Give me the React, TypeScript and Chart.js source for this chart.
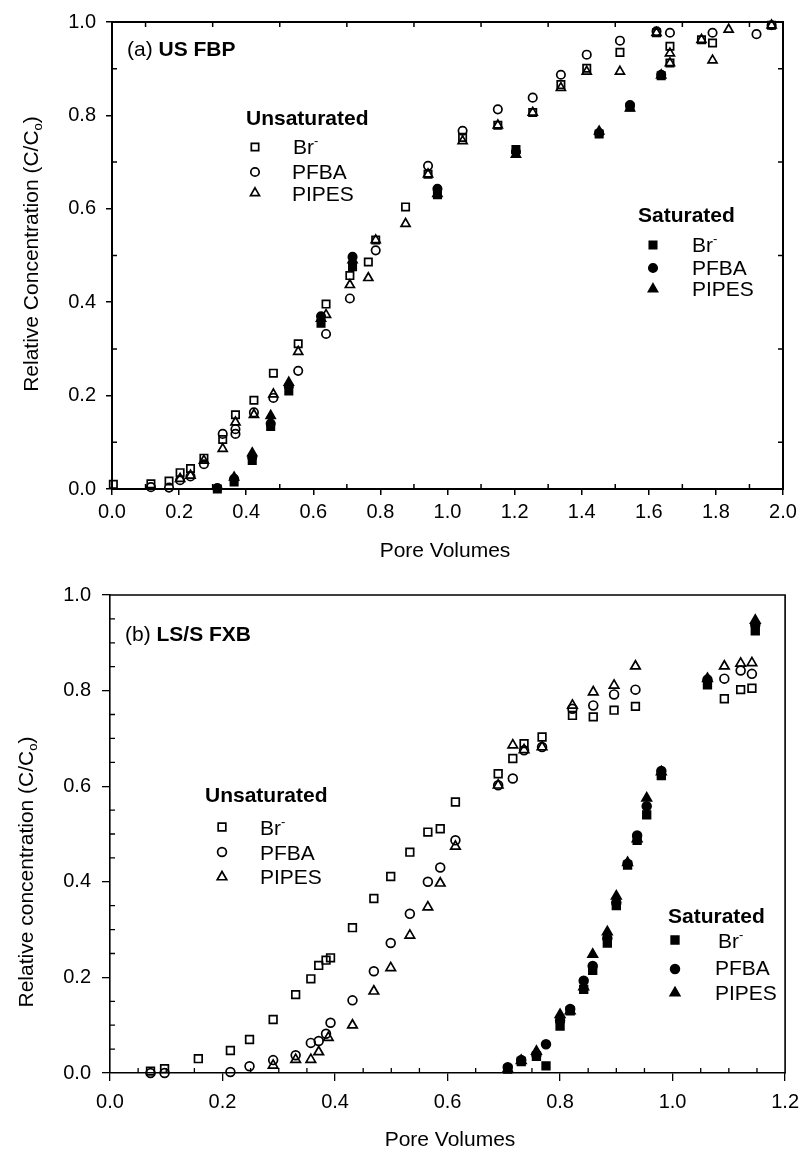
import React, { useEffect, useRef } from 'react';
import { Chart, registerables } from 'chart.js';

Chart.register(...registerables);

const FONT = '"Liberation Sans", Arial, Helvetica, sans-serif';

// ---------------- Panel (a) US FBP ----------------
const A_X_TICKS = [0, 0.2, 0.4, 0.6, 0.8, 1.0, 1.2, 1.4, 1.6, 1.8, 2.0];
const A_Y_TICKS = [0, 0.2, 0.4, 0.6, 0.8, 1.0];

const A_UNSAT_BR_X = [0.004, 0.116, 0.17, 0.203, 0.234, 0.274, 0.33, 0.368, 0.423, 0.481, 0.555, 0.638, 0.709, 0.764, 0.786, 0.875, 0.942, 1.045, 1.15, 1.254, 1.338, 1.415, 1.514, 1.623, 1.663, 1.663, 1.757, 1.79, 1.966];
const A_UNSAT_BR_Y = [0.010, 0.011, 0.017, 0.035, 0.044, 0.066, 0.106, 0.159, 0.190, 0.248, 0.311, 0.396, 0.457, 0.486, 0.533, 0.604, 0.674, 0.753, 0.779, 0.806, 0.866, 0.901, 0.935, 0.977, 0.948, 0.912, 0.962, 0.955, 0.993];

const A_UNSAT_PFBA_X = [0.116, 0.17, 0.203, 0.234, 0.274, 0.33, 0.368, 0.368, 0.423, 0.481, 0.555, 0.638, 0.709, 0.786, 0.942, 1.045, 1.15, 1.254, 1.338, 1.415, 1.514, 1.623, 1.663, 1.79, 1.921, 1.966];
const A_UNSAT_PFBA_Y = [0.004, 0.003, 0.019, 0.027, 0.053, 0.118, 0.128, 0.118, 0.164, 0.195, 0.253, 0.332, 0.408, 0.511, 0.692, 0.767, 0.813, 0.838, 0.887, 0.930, 0.960, 0.980, 0.977, 0.977, 0.974, 0.993];

const A_UNSAT_PIPES_X = [0.203, 0.234, 0.274, 0.33, 0.368, 0.423, 0.481, 0.555, 0.638, 0.709, 0.764, 0.786, 0.875, 0.942, 1.045, 1.15, 1.254, 1.338, 1.415, 1.514, 1.623, 1.663, 1.663, 1.757, 1.79, 1.838, 1.966];
const A_UNSAT_PIPES_Y = [0.022, 0.029, 0.061, 0.086, 0.143, 0.159, 0.203, 0.294, 0.373, 0.437, 0.452, 0.533, 0.568, 0.674, 0.745, 0.779, 0.806, 0.859, 0.894, 0.894, 0.977, 0.933, 0.912, 0.962, 0.918, 0.984, 0.993];

const A_SAT_BR_X = [0.314, 0.364, 0.418, 0.473, 0.527, 0.623, 0.717, 0.970, 1.204, 1.452, 1.544, 1.637];
const A_SAT_BR_Y = [0.000, 0.015, 0.061, 0.134, 0.210, 0.355, 0.476, 0.630, 0.727, 0.760, 0.818, 0.885];

const A_SAT_PFBA_X = [0.314, 0.364, 0.418, 0.473, 0.527, 0.623, 0.717, 0.970, 1.204, 1.452, 1.544, 1.637];
const A_SAT_PFBA_Y = [0.002, 0.022, 0.068, 0.140, 0.220, 0.370, 0.497, 0.643, 0.722, 0.762, 0.822, 0.887];

const A_SAT_PIPES_X = [0.364, 0.418, 0.473, 0.527, 0.623, 0.717, 0.970, 1.204, 1.452, 1.544, 1.637];
const A_SAT_PIPES_Y = [0.025, 0.077, 0.157, 0.228, 0.365, 0.490, 0.632, 0.716, 0.766, 0.815, 0.886];

// ---------------- Panel (b) LS/S FXB ----------------
const B_X_TICKS = [0, 0.2, 0.4, 0.6, 0.8, 1.0, 1.2];
const B_Y_TICKS = [0, 0.2, 0.4, 0.6, 0.8, 1.0];

const B_UNSAT_BR_X = [0.072, 0.097, 0.157, 0.214, 0.248, 0.29, 0.33, 0.357, 0.371, 0.384, 0.392, 0.431, 0.469, 0.499, 0.533, 0.565, 0.587, 0.614, 0.69, 0.716, 0.736, 0.768, 0.822, 0.859, 0.896, 0.934, 1.092, 1.121, 1.141];
const B_UNSAT_BR_Y = [0.004, 0.009, 0.030, 0.047, 0.070, 0.112, 0.164, 0.197, 0.225, 0.236, 0.241, 0.304, 0.365, 0.411, 0.462, 0.504, 0.511, 0.567, 0.626, 0.658, 0.689, 0.703, 0.748, 0.745, 0.759, 0.767, 0.783, 0.802, 0.805];

const B_UNSAT_PFBA_X = [0.072, 0.097, 0.214, 0.248, 0.29, 0.33, 0.357, 0.371, 0.384, 0.392, 0.431, 0.469, 0.499, 0.533, 0.565, 0.587, 0.614, 0.69, 0.716, 0.736, 0.768, 0.822, 0.859, 0.896, 0.934, 1.092, 1.121, 1.141];
const B_UNSAT_PFBA_Y = [0.000, 0.000, 0.002, 0.014, 0.027, 0.037, 0.063, 0.067, 0.082, 0.105, 0.152, 0.213, 0.272, 0.333, 0.400, 0.430, 0.487, 0.602, 0.616, 0.675, 0.682, 0.762, 0.769, 0.792, 0.802, 0.825, 0.842, 0.835];

const B_UNSAT_PIPES_X = [0.29, 0.33, 0.357, 0.371, 0.388, 0.431, 0.469, 0.499, 0.533, 0.565, 0.587, 0.614, 0.69, 0.716, 0.736, 0.768, 0.822, 0.859, 0.896, 0.934, 1.092, 1.121, 1.141];
const B_UNSAT_PIPES_Y = [0.016, 0.028, 0.028, 0.044, 0.074, 0.100, 0.171, 0.220, 0.288, 0.347, 0.397, 0.474, 0.602, 0.686, 0.676, 0.682, 0.769, 0.797, 0.811, 0.851, 0.851, 0.857, 0.858];

const B_SAT_BR_X = [0.707, 0.731, 0.758, 0.775, 0.80, 0.818, 0.842, 0.858, 0.884, 0.90, 0.92, 0.937, 0.954, 0.98, 1.062, 1.147];
const B_SAT_BR_Y = [0.008, 0.024, 0.035, 0.015, 0.098, 0.130, 0.175, 0.215, 0.272, 0.350, 0.435, 0.487, 0.540, 0.622, 0.812, 0.925];

const B_SAT_PFBA_X = [0.707, 0.731, 0.758, 0.775, 0.80, 0.818, 0.842, 0.858, 0.884, 0.90, 0.92, 0.937, 0.954, 0.98, 1.062, 1.147];
const B_SAT_PFBA_Y = [0.012, 0.027, 0.038, 0.060, 0.110, 0.134, 0.193, 0.224, 0.282, 0.356, 0.438, 0.497, 0.558, 0.632, 0.823, 0.938];

const B_SAT_PIPES_X = [0.707, 0.731, 0.758, 0.80, 0.818, 0.842, 0.858, 0.884, 0.90, 0.92, 0.937, 0.954, 0.98, 1.062, 1.147];
const B_SAT_PIPES_Y = [0.008, 0.026, 0.045, 0.122, 0.130, 0.180, 0.248, 0.295, 0.370, 0.440, 0.490, 0.575, 0.630, 0.825, 0.947];

type Shape = 'rect' | 'circle' | 'triangle';
type Series = { label: string; x: number[]; y: number[]; shape: Shape; filled: boolean };

const A_SERIES: Series[] = [
  { label: 'Saturated Br-', x: A_SAT_BR_X, y: A_SAT_BR_Y, shape: 'rect', filled: true },
  { label: 'Saturated PFBA', x: A_SAT_PFBA_X, y: A_SAT_PFBA_Y, shape: 'circle', filled: true },
  { label: 'Saturated PIPES', x: A_SAT_PIPES_X, y: A_SAT_PIPES_Y, shape: 'triangle', filled: true },
  { label: 'Unsaturated Br-', x: A_UNSAT_BR_X, y: A_UNSAT_BR_Y, shape: 'rect', filled: false },
  { label: 'Unsaturated PFBA', x: A_UNSAT_PFBA_X, y: A_UNSAT_PFBA_Y, shape: 'circle', filled: false },
  { label: 'Unsaturated PIPES', x: A_UNSAT_PIPES_X, y: A_UNSAT_PIPES_Y, shape: 'triangle', filled: false },
];

const B_SERIES: Series[] = [
  { label: 'Saturated Br-', x: B_SAT_BR_X, y: B_SAT_BR_Y, shape: 'rect', filled: true },
  { label: 'Saturated PFBA', x: B_SAT_PFBA_X, y: B_SAT_PFBA_Y, shape: 'circle', filled: true },
  { label: 'Saturated PIPES', x: B_SAT_PIPES_X, y: B_SAT_PIPES_Y, shape: 'triangle', filled: true },
  { label: 'Unsaturated Br-', x: B_UNSAT_BR_X, y: B_UNSAT_BR_Y, shape: 'rect', filled: false },
  { label: 'Unsaturated PFBA', x: B_UNSAT_PFBA_X, y: B_UNSAT_PFBA_Y, shape: 'circle', filled: false },
  { label: 'Unsaturated PIPES', x: B_UNSAT_PIPES_X, y: B_UNSAT_PIPES_Y, shape: 'triangle', filled: false },
];

type Part = { t: string; bold?: boolean; sup?: boolean; sub?: boolean };
type LegendGroup = {
  heading: { x: number; y: number; text: string };
  markerX: number;
  rows: { y: number; my: number; tx: number; parts: Part[]; shape: Shape }[];
  filled: boolean;
};

type Panel = {
  top: number;
  height: number;
  padding: { top: number; right: number; left: number; bottom: number };
  yWidth: number;
  xHeight: number;
  xMax: number;
  xTicks: number[];
  yTicks: number[];
  minorStep: number;
  topRightTicks: boolean;
  axisWidth: number;
  tickWidth: number;
  majorLen: number;
  minorLen: number;
  tickFont: number;
  xPad: number;
  yPad: number;
  markerLine: number;
  sizes: Record<Shape, number>;
  series: Series[];
  title: { x: number; y: number; parts: Part[] };
  xTitle: { x: number; y: number; text: string };
  yTitle: { x: number; y: number; parts: Part[] };
  legends: LegendGroup[];
};

const BR: Part[] = [{ t: 'Br' }, { t: '-', sup: true }];

const PANEL_A: Panel = {
  top: 0,
  height: 560,
  padding: { top: 19, right: 25, left: 0, bottom: 0 },
  yWidth: 112,
  xHeight: 71,
  xMax: 2,
  xTicks: A_X_TICKS,
  yTicks: A_Y_TICKS,
  minorStep: 0.1,
  topRightTicks: true,
  axisWidth: 2,
  tickWidth: 1.5,
  majorLen: 6,
  minorLen: 5,
  tickFont: 20,
  xPad: 5,
  yPad: 10,
  markerLine: 1.7,
  sizes: { rect: 5.2, circle: 4.2, triangle: 5.2 },
  series: A_SERIES,
  title: { x: 127, y: 48, parts: [{ t: '(a) ' }, { t: 'US FBP', bold: true }] },
  xTitle: { x: 445, y: 549, text: 'Pore Volumes' },
  yTitle: { x: 30, y: 254, parts: [{ t: 'Relative Concentration (C/C' }, { t: 'o', sub: true }, { t: ')' }] },
  legends: [
    {
      heading: { x: 246, y: 117, text: 'Unsaturated' },
      markerX: 255,
      filled: false,
      rows: [
        { y: 146, my: 147, tx: 293, parts: BR, shape: 'rect' },
        { y: 171, my: 172, tx: 292, parts: [{ t: 'PFBA' }], shape: 'circle' },
        { y: 193, my: 193, tx: 292, parts: [{ t: 'PIPES' }], shape: 'triangle' },
      ],
    },
    {
      heading: { x: 638, y: 214, text: 'Saturated' },
      markerX: 653,
      filled: true,
      rows: [
        { y: 244, my: 245, tx: 692, parts: BR, shape: 'rect' },
        { y: 267, my: 268, tx: 692, parts: [{ t: 'PFBA' }], shape: 'circle' },
        { y: 288, my: 289, tx: 692, parts: [{ t: 'PIPES' }], shape: 'triangle' },
      ],
    },
  ],
};

const PANEL_B: Panel = {
  top: 560,
  height: 591,
  padding: { top: 35, right: 16, left: 0, bottom: 0 },
  yWidth: 110,
  xHeight: 78,
  xMax: 1.2,
  xTicks: B_X_TICKS,
  yTicks: B_Y_TICKS,
  minorStep: 0.05,
  topRightTicks: false,
  axisWidth: 1.6,
  tickWidth: 1.3,
  majorLen: 8,
  minorLen: 5,
  tickFont: 20,
  xPad: 9,
  yPad: 11,
  markerLine: 1.7,
  sizes: { rect: 5.4, circle: 4.4, triangle: 5.5 },
  series: B_SERIES,
  title: { x: 125, y: 633, parts: [{ t: '(b) ' }, { t: 'LS/S FXB', bold: true }] },
  xTitle: { x: 450, y: 1138, text: 'Pore Volumes' },
  yTitle: { x: 25, y: 872, parts: [{ t: 'Relative concentration (C/C' }, { t: 'o', sub: true }, { t: ')' }] },
  legends: [
    {
      heading: { x: 205, y: 794, text: 'Unsaturated' },
      markerX: 222,
      filled: false,
      rows: [
        { y: 827, my: 827, tx: 260, parts: BR, shape: 'rect' },
        { y: 852, my: 852, tx: 260, parts: [{ t: 'PFBA' }], shape: 'circle' },
        { y: 876, my: 877, tx: 260, parts: [{ t: 'PIPES' }], shape: 'triangle' },
      ],
    },
    {
      heading: { x: 668, y: 915, text: 'Saturated' },
      markerX: 675,
      filled: true,
      rows: [
        { y: 940, my: 940, tx: 718, parts: BR, shape: 'rect' },
        { y: 967, my: 969, tx: 715, parts: [{ t: 'PFBA' }], shape: 'circle' },
        { y: 992, my: 993, tx: 715, parts: [{ t: 'PIPES' }], shape: 'triangle' },
      ],
    },
  ],
};

const LEGEND_FONT = 21;
const HEADING_FONT = 21;
const TITLE_FONT = 21;
const AXIS_TITLE_FONT = 21;

function drawShape(ctx: CanvasRenderingContext2D, shape: Shape, x: number, y: number, r: number, filled: boolean, lw: number) {
  ctx.beginPath();
  if (shape === 'rect') {
    const s = Math.SQRT1_2 * r;
    ctx.rect(x - s, y - s, 2 * s, 2 * s);
  } else if (shape === 'circle') {
    ctx.arc(x, y, r, 0, Math.PI * 2);
  } else {
    ctx.moveTo(x, y - r);
    ctx.lineTo(x + 0.866 * r, y + 0.5 * r);
    ctx.lineTo(x - 0.866 * r, y + 0.5 * r);
    ctx.closePath();
  }
  ctx.lineWidth = lw;
  ctx.strokeStyle = '#000';
  if (filled) {
    ctx.fillStyle = '#000';
    ctx.fill();
  }
  ctx.stroke();
}

function partFont(p: Part, size: number) {
  const s = p.sup || p.sub ? size * 0.62 : size;
  return `${p.bold ? 'bold ' : ''}${s}px ${FONT}`;
}

function measureParts(ctx: CanvasRenderingContext2D, parts: Part[], size: number) {
  let w = 0;
  for (const p of parts) {
    ctx.font = partFont(p, size);
    w += ctx.measureText(p.t).width;
  }
  return w;
}

// draws parts with a visual cap-centre at y
function drawParts(ctx: CanvasRenderingContext2D, parts: Part[], x: number, y: number, size: number) {
  let cx = x;
  const base = y + size * 0.36;
  ctx.textBaseline = 'alphabetic';
  ctx.textAlign = 'left';
  ctx.fillStyle = '#000';
  for (const p of parts) {
    ctx.font = partFont(p, size);
    let dy = 0;
    if (p.sup) dy = -size * 0.42;
    if (p.sub) dy = size * 0.22;
    ctx.fillText(p.t, cx, base + dy);
    cx += ctx.measureText(p.t).width;
  }
}

function makePlugin(panel: Panel) {
  return {
    id: 'decor',
    afterDraw(chart: any) {
      const ctx: CanvasRenderingContext2D = chart.ctx;
      const { left, right, top, bottom } = chart.chartArea;
      const xs = chart.scales.x;
      const ys = chart.scales.y;
      const off = panel.top;
      ctx.save();
      ctx.strokeStyle = '#000';
      ctx.lineCap = 'butt';
      // frame top & right
      ctx.lineWidth = panel.axisWidth;
      ctx.beginPath();
      ctx.moveTo(left - panel.axisWidth / 2, top);
      ctx.lineTo(right, top);
      ctx.lineTo(right, bottom + panel.axisWidth / 2);
      ctx.stroke();

      // minor ticks (inward)
      ctx.lineWidth = panel.tickWidth;
      const L = panel.minorLen;
      const isMajor = (v: number) => Math.abs(v / 0.2 - Math.round(v / 0.2)) < 1e-6;
      const nx = Math.round(panel.xMax / panel.minorStep);
      ctx.beginPath();
      for (let i = 1; i < nx; i++) {
        const v = i * panel.minorStep;
        if (isMajor(v)) continue;
        const px = xs.getPixelForValue(v);
        ctx.moveTo(px, bottom);
        ctx.lineTo(px, bottom - L);
        if (panel.topRightTicks) {
          ctx.moveTo(px, top);
          ctx.lineTo(px, top + L);
        }
      }
      const ny = Math.round(1 / panel.minorStep);
      for (let i = 1; i < ny; i++) {
        const v = i * panel.minorStep;
        if (isMajor(v)) continue;
        const py = ys.getPixelForValue(v);
        ctx.moveTo(left, py);
        ctx.lineTo(left + L, py);
        if (panel.topRightTicks) {
          ctx.moveTo(right, py);
          ctx.lineTo(right - L, py);
        }
      }
      ctx.stroke();

      // panel title
      drawParts(ctx, panel.title.parts, panel.title.x, panel.title.y - off, TITLE_FONT);

      // x title
      ctx.font = `${AXIS_TITLE_FONT}px ${FONT}`;
      ctx.textAlign = 'center';
      ctx.textBaseline = 'alphabetic';
      ctx.fillStyle = '#000';
      ctx.fillText(panel.xTitle.text, panel.xTitle.x, panel.xTitle.y - off + AXIS_TITLE_FONT * 0.36);

      // y title (rotated)
      ctx.save();
      ctx.translate(panel.yTitle.x, panel.yTitle.y - off);
      ctx.rotate(-Math.PI / 2);
      const w = measureParts(ctx, panel.yTitle.parts, AXIS_TITLE_FONT);
      drawParts(ctx, panel.yTitle.parts, -w / 2, 0, AXIS_TITLE_FONT);
      ctx.restore();

      // legends
      for (const g of panel.legends) {
        drawParts(ctx, [{ t: g.heading.text, bold: true }], g.heading.x, g.heading.y - off, HEADING_FONT);
        for (const row of g.rows) {
          drawShape(ctx, row.shape, g.markerX, row.my - off, panel.sizes[row.shape], g.filled, panel.markerLine);
          drawParts(ctx, row.parts, row.tx, row.y - off, LEGEND_FONT);
        }
      }
      ctx.restore();
    },
  };
}

function buildConfig(panel: Panel): any {
  const datasets = panel.series.map((s) => ({
    type: 'scatter',
    label: s.label,
    data: s.x.map((x, i) => ({ x, y: s.y[i] })),
    pointStyle: s.shape,
    pointRadius: panel.sizes[s.shape],
    pointHoverRadius: panel.sizes[s.shape],
    pointBorderWidth: panel.markerLine,
    pointBorderColor: '#000',
    pointBackgroundColor: s.filled ? '#000' : 'rgba(0,0,0,0)',
    showLine: false,
    clip: false,
  }));
  const tickFont = { family: FONT, size: panel.tickFont, lineHeight: 1.2 };
  return {
    type: 'scatter',
    data: { datasets },
    options: {
      responsive: false,
      maintainAspectRatio: false,
      devicePixelRatio: 1,
      animation: false,
      events: [],
      layout: { padding: panel.padding },
      plugins: { legend: { display: false }, tooltip: { enabled: false }, title: { display: false } },
      scales: {
        x: {
          type: 'linear',
          position: 'bottom',
          min: 0,
          max: panel.xMax,
          afterBuildTicks: (scale: any) => {
            scale.ticks = panel.xTicks.map((v) => ({ value: v }));
          },
          afterFit: (scale: any) => {
            scale.height = panel.xHeight;
          },
          ticks: {
            autoSkip: false,
            maxRotation: 0,
            minRotation: 0,
            padding: panel.xPad,
            color: '#000',
            font: tickFont,
            callback: (v: any) => Number(v).toFixed(1),
          },
          grid: {
            display: true,
            drawOnChartArea: false,
            drawTicks: true,
            tickLength: panel.majorLen,
            color: '#000',
            lineWidth: panel.tickWidth,
          },
          border: { display: true, color: '#000', width: panel.axisWidth },
          title: { display: false },
        },
        y: {
          type: 'linear',
          position: 'left',
          min: 0,
          max: 1,
          afterBuildTicks: (scale: any) => {
            scale.ticks = panel.yTicks.map((v) => ({ value: v }));
          },
          afterFit: (scale: any) => {
            scale.width = panel.yWidth;
          },
          ticks: {
            autoSkip: false,
            padding: panel.yPad,
            color: '#000',
            font: tickFont,
            callback: (v: any) => Number(v).toFixed(1),
          },
          grid: {
            display: true,
            drawOnChartArea: false,
            drawTicks: true,
            tickLength: panel.majorLen,
            color: '#000',
            lineWidth: panel.tickWidth,
          },
          border: { display: true, color: '#000', width: panel.axisWidth },
          title: { display: false },
        },
      },
    },
    plugins: [makePlugin(panel)],
  };
}

function PanelChart({ panel }: { panel: Panel }) {
  const ref = useRef<HTMLCanvasElement | null>(null);
  useEffect(() => {
    if (!ref.current) return;
    const chart = new Chart(ref.current, buildConfig(panel));
    return () => chart.destroy();
  }, [panel]);
  return (
    <canvas
      ref={ref}
      width={808}
      height={panel.height}
      style={{ position: 'absolute', left: 0, top: panel.top, width: 808, height: panel.height, display: 'block' }}
    />
  );
}

export default function App() {
  return (
    <div style={{ position: 'absolute', left: 0, top: 0, width: 808, height: 1151, background: '#fff', overflow: 'hidden' }}>
      <PanelChart panel={PANEL_A} />
      <PanelChart panel={PANEL_B} />
    </div>
  );
}
